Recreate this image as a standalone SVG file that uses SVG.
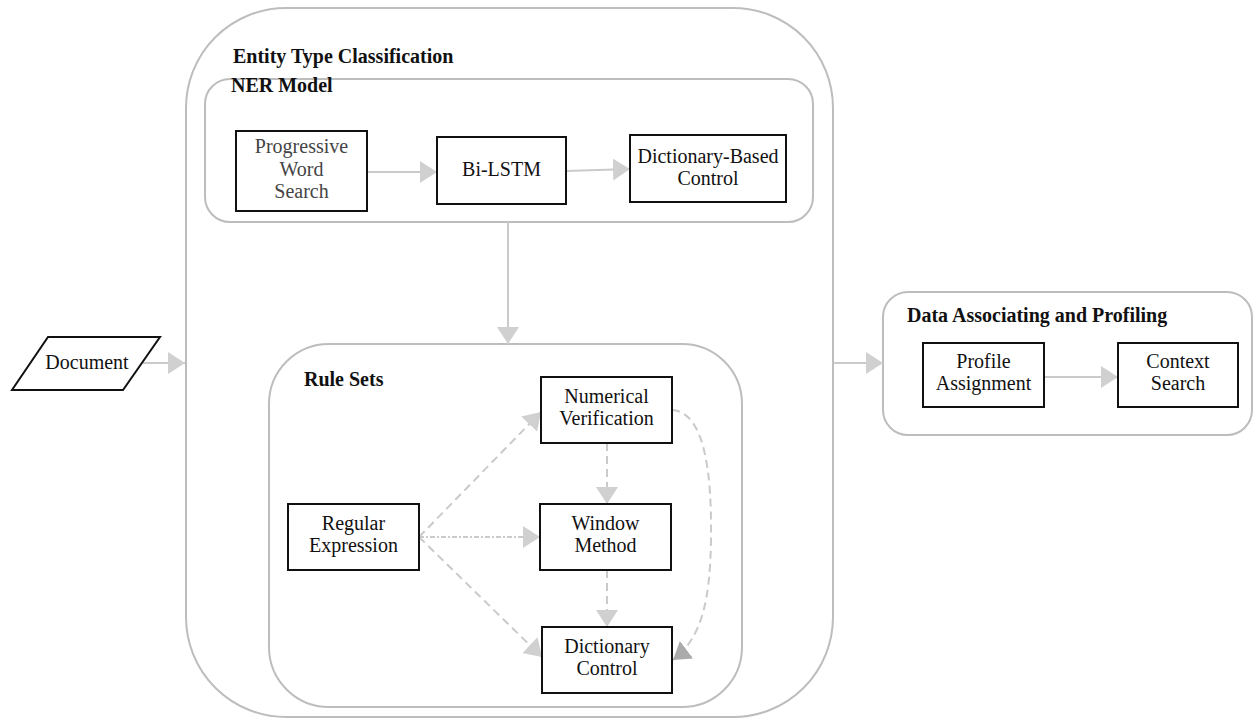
<svg xmlns="http://www.w3.org/2000/svg" width="1254" height="719" viewBox="0 0 1254 719">
<defs>
<style>
.cont{fill:none;stroke:#bdbdbd;stroke-width:2}
.box{fill:#fff;stroke:#111;stroke-width:2}
.t{font-family:"Liberation Serif","Times New Roman",serif;font-size:20px;fill:#111;text-anchor:middle}
.tg{fill:#444}
.h{font-family:"Liberation Serif","Times New Roman",serif;font-size:20px;font-weight:bold;fill:#111}
.c{fill:none;stroke:#cacaca;stroke-width:2}
.d{stroke-dasharray:8,5}
.dd{stroke-dasharray:5,2,2,2}
</style>
<marker id="ah" viewBox="0 0 18 22" refX="17" refY="11" markerWidth="18" markerHeight="22" markerUnits="userSpaceOnUse" orient="auto">
<path d="M0,0 L17,11 L0,22 Z" fill="#d0d0d0"/>
</marker>
<marker id="ahd" viewBox="0 0 18 22" refX="17" refY="11" markerWidth="18" markerHeight="22" markerUnits="userSpaceOnUse" orient="auto">
<path d="M0,0 L17,11 L0,22 Z" fill="#ababab"/>
</marker>
</defs>
<rect width="1254" height="719" fill="#fff"/>

<g id="entity-type-classification">
<rect class="cont" x="186" y="8" width="647" height="709" rx="100" ry="100"/>
<text class="h" x="233" y="63">Entity Type Classification</text>
</g>

<g id="ner-model">
<rect class="cont" x="205" y="79" width="608" height="143" rx="25" ry="25"/>
<text class="h" x="231" y="92">NER Model</text>
</g>

<g id="rule-sets">
<rect class="cont" x="269" y="344" width="473" height="363" rx="60" ry="60"/>
<text class="h" x="304" y="386">Rule Sets</text>
</g>

<g id="data-associating">
<rect class="cont" x="883" y="292" width="369" height="143" rx="25" ry="25"/>
<text class="h" x="907" y="322">Data Associating and Profiling</text>
</g>

<g id="connectors">
<line class="c" x1="143" y1="363" x2="185" y2="363" marker-end="url(#ah)"/>
<line class="c" x1="368" y1="172" x2="437" y2="172" marker-end="url(#ah)"/>
<line class="c" x1="566" y1="171" x2="630" y2="169" marker-end="url(#ah)"/>
<line class="c" x1="508" y1="222" x2="508" y2="344" marker-end="url(#ah)"/>
<line class="c" x1="833" y1="363" x2="883" y2="363" marker-end="url(#ah)"/>
<line class="c" x1="1044" y1="377" x2="1118" y2="377" marker-end="url(#ah)"/>
<line class="c d" x1="419" y1="537" x2="541" y2="412" marker-end="url(#ah)"/>
<line class="c dd" x1="419" y1="537" x2="540" y2="537" marker-end="url(#ah)"/>
<line class="c d" x1="419" y1="537" x2="542" y2="657" marker-end="url(#ah)"/>
<line class="c d" x1="607" y1="443" x2="607" y2="504" marker-end="url(#ah)"/>
<line class="c d" x1="607" y1="570" x2="607" y2="627" marker-end="url(#ah)"/>
<path class="c d" d="M672,410 C704,412 712,470 711,540 C710,600 702,638 673,660" stroke="#bdbdbd" marker-end="url(#ahd)"/>
</g>

<g id="document">
<polygon points="48,337 160,337 123,390 12,390" fill="#fff" stroke="#111" stroke-width="2"/>
<text class="t" x="87" y="369">Document</text>
</g>

<g id="progressive-word-search">
<rect class="box" x="236" y="131" width="131" height="80"/>
<text class="t tg" x="301.5" y="153">Progressive</text>
<text class="t tg" x="301.5" y="175.5">Word</text>
<text class="t tg" x="301.5" y="198">Search</text>
</g>

<g id="bi-lstm">
<rect class="box" x="437" y="137" width="129" height="67"/>
<text class="t" x="501.5" y="176">Bi-LSTM</text>
</g>

<g id="dictionary-based-control">
<rect class="box" x="630" y="135" width="156" height="67"/>
<text class="t" x="708" y="163">Dictionary-Based</text>
<text class="t" x="708" y="185">Control</text>
</g>

<g id="numerical-verification">
<rect class="box" x="541" y="377" width="131" height="66"/>
<text class="t" x="606.5" y="403">Numerical</text>
<text class="t" x="606.5" y="425">Verification</text>
</g>

<g id="regular-expression">
<rect class="box" x="288" y="504" width="131" height="66"/>
<text class="t" x="353.5" y="530">Regular</text>
<text class="t" x="353.5" y="552">Expression</text>
</g>

<g id="window-method">
<rect class="box" x="540" y="504" width="131" height="66"/>
<text class="t" x="605.5" y="530">Window</text>
<text class="t" x="605.5" y="552">Method</text>
</g>

<g id="dictionary-control">
<rect class="box" x="542" y="627" width="130" height="66"/>
<text class="t" x="607" y="653">Dictionary</text>
<text class="t" x="607" y="675">Control</text>
</g>

<g id="profile-assignment">
<rect class="box" x="923" y="343" width="121" height="64"/>
<text class="t" x="983.5" y="368">Profile</text>
<text class="t" x="983.5" y="390">Assignment</text>
</g>

<g id="context-search">
<rect class="box" x="1118" y="343" width="120" height="64"/>
<text class="t" x="1178" y="368">Context</text>
<text class="t" x="1178" y="390">Search</text>
</g>
</svg>
